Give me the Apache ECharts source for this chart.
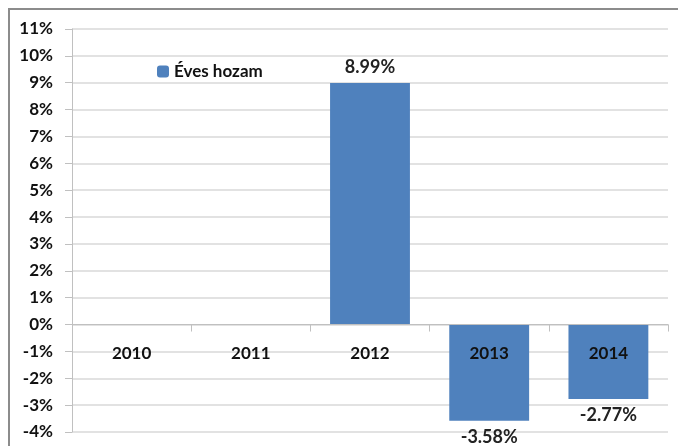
<!DOCTYPE html>
<html>
<head>
<meta charset="utf-8">
<script src="https://cdn.jsdelivr.net/npm/echarts@6/dist/echarts.min.js"></script>
<style>
  html, body { margin: 0; padding: 0; background: #fff; }
  #frame { position: absolute; left: 8px; top: 8px; width: 700px; height: 460px;
           border-top: 2px solid #8c8c8c; border-left: 2px solid #8c8c8c; }
  #chart { position: absolute; left: 0; top: 0; width: 678px; height: 446px; }
</style>
</head>
<body>
<div id="frame"></div>
<div id="chart"></div>
<script>
// Éves hozam oszlopdiagram
var years = ['2010', '2011', '2012', '2013', '2014'];
var hozam = [null, null, 8.99, -3.58, -2.77];
var seriesName = 'Éves hozam';
var yMin = -4, yMax = 11;

var gridTop = 29, gridBottom = 14;
var gridHeight = 446 - gridTop - gridBottom;
// kategóriatengely a 0% vonalon
var zeroOffset = -gridHeight * (0 - yMin) / (yMax - yMin);

var chart = echarts.init(document.getElementById('chart'));

var option = {
    animation: false,
    textStyle: { fontFamily: 'Lato' },
    legend: {
        left: 152,
        top: 58,
        itemWidth: 12,
        itemHeight: 12,
        itemGap: 5,
        textStyle: { fontSize: 17, fontWeight: 'bold', color: '#111' },
        data: [seriesName]
    },
    grid: { left: 72, right: 10, top: gridTop, bottom: gridBottom, outerBoundsMode: 'none' },
    xAxis: {
        type: 'category',
        data: years,
        position: 'bottom',
        offset: zeroOffset,
        axisLine: { onZero: false, lineStyle: { color: '#c0c0c0', width: 1 } },
        axisTick: { show: true, length: 7, lineStyle: { color: '#c0c0c0' } },
        axisLabel: { margin: 20, fontSize: 17, fontWeight: 'bold', color: '#111' },
        z: 10
    },
    yAxis: {
        type: 'value',
        min: yMin,
        max: yMax,
        interval: 1,
        axisLine: { show: true, lineStyle: { color: '#c0c0c0' } },
        axisTick: { show: true, length: 7, lineStyle: { color: '#c0c0c0' } },
        axisLabel: { margin: 19, fontSize: 17, fontWeight: 'bold', color: '#111',
                     formatter: function (v) { return v + '%'; } },
        splitLine: { lineStyle: { color: '#d9d9d9', width: 1.5 } }
    },
    series: [{
        name: seriesName,
        type: 'bar',
        barWidth: '67%',
        itemStyle: { color: '#4f81bd' },
        label: {
            show: true,
            position: 'top',
            fontSize: 18,
            fontWeight: 'bold',
            color: '#222',
            distance: 7,
            formatter: function (p) { return p.value == null ? '' : p.value.toFixed(2) + '%'; }
        },
        // negatív értékek címkéje az oszlop alá
        data: hozam.map(function (v) {
            if (v != null && v < 0) {
                return { value: v, label: { position: 'bottom' } };
            }
            return v;
        })
    }]
};

chart.setOption(option);
</script>
</body>
</html>
